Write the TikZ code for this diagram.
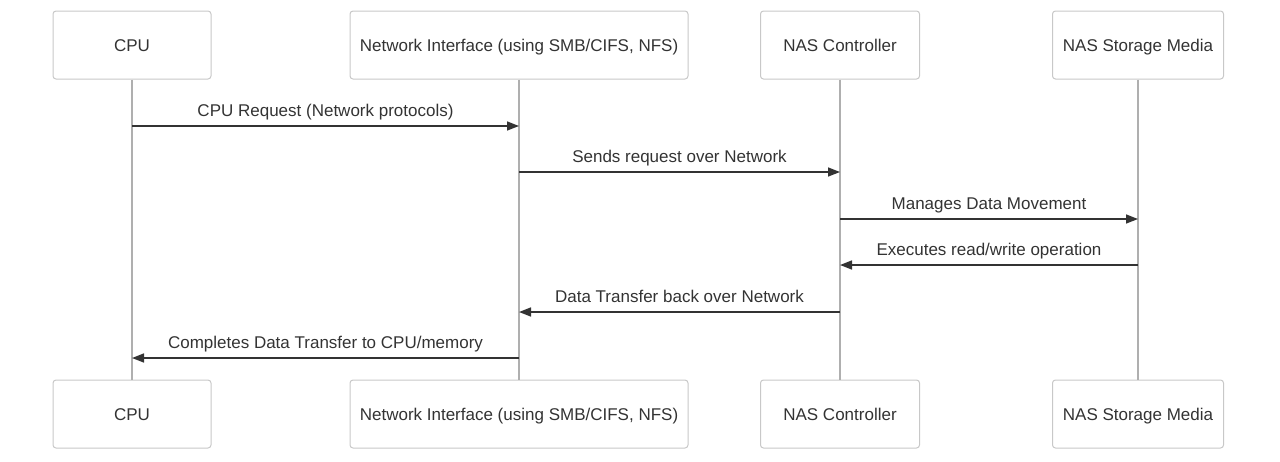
\documentclass[tikz,border=0pt]{standalone}
\usepackage{fontspec}
\setmainfont{Liberation Sans}
\usetikzlibrary{positioning,arrows.meta}
\definecolor{boxline}{RGB}{200,200,200}
\definecolor{lifeline}{RGB}{175,175,175}
\definecolor{msgline}{RGB}{51,51,51}

\begin{document}
\begin{tikzpicture}[
    x=1pt, y=-1pt,
    actor/.style={draw=boxline, line width=1pt, rounded corners=3pt, fill=white,
                  minimum height=68pt, inner sep=8pt, text=msgline,
                  text height=12.5pt, text depth=0pt,
                  font=\fontsize{17}{20}\selectfont},
    life/.style={draw=lifeline, line width=2pt},
    msg/.style={-{Triangle[length=12pt, width=9pt]}, draw=msgline, fill=msgline, line width=1.5pt},
    lbl/.style={font=\fontsize{17}{20}\selectfont, text=msgline, above=3pt, inner sep=2pt,
                text height=12.5pt, text depth=4pt}
  ]
  \useasboundingbox (0,0) rectangle (1280,461);

  % ===== Actors (top row) =====
  \node[actor, minimum width=158pt] (cpu)  at (132, 45)  {CPU};
  \node[actor, minimum width=338pt] (net)  at (519, 45)  {Network Interface (using SMB/CIFS, NFS)};
  \node[actor, minimum width=159pt] (ctl)  at (840, 45)  {NAS Controller};
  \node[actor, minimum width=171pt] (sto)  at (1138, 45) {NAS Storage Media};

  % ===== Actors (bottom row) =====
  \node[actor, minimum width=158pt] (cpuB) at (132, 414)  {CPU};
  \node[actor, minimum width=338pt] (netB) at (519, 414)  {Network Interface (using SMB/CIFS, NFS)};
  \node[actor, minimum width=159pt] (ctlB) at (840, 414)  {NAS Controller};
  \node[actor, minimum width=171pt] (stoB) at (1138, 414) {NAS Storage Media};

  % ===== Lifelines =====
  \draw[life] (cpu.south) -- (cpuB.north);
  \draw[life] (net.south) -- (netB.north);
  \draw[life] (ctl.south) -- (ctlB.north);
  \draw[life] (sto.south) -- (stoB.north);

  % ===== Messages =====
  \draw[msg] (cpu.south |- 0,126) -- (net.south |- 0,126)
    node[midway, lbl] {CPU Request (Network protocols)};
  \draw[msg] (net.south |- 0,172) -- (ctl.south |- 0,172)
    node[midway, lbl] {Sends request over Network};
  \draw[msg] (ctl.south |- 0,219) -- (sto.south |- 0,219)
    node[midway, lbl] {Manages Data Movement};
  \draw[msg] (sto.south |- 0,265) -- (ctl.south |- 0,265)
    node[midway, lbl] {Executes read/write operation};
  \draw[msg] (ctl.south |- 0,312) -- (net.south |- 0,312)
    node[midway, lbl] {Data Transfer back over Network};
  \draw[msg] (net.south |- 0,358) -- (cpu.south |- 0,358)
    node[midway, lbl] {Completes Data Transfer to CPU/memory};
\end{tikzpicture}
\end{document}
